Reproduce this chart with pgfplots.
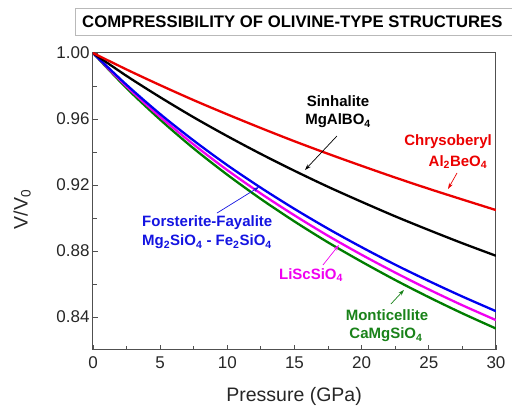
\documentclass[border=0pt]{standalone}
\usepackage{pgfplots}
\pgfplotsset{compat=1.18}
\usepackage{fontspec}
\setmainfont{Liberation Sans}
\usetikzlibrary{arrows.meta}

\definecolor{cred}{RGB}{235,0,0}
\definecolor{cblue}{RGB}{0,0,240}
\definecolor{cmag}{RGB}{240,0,240}
\definecolor{cgreen}{RGB}{0,125,0}
\definecolor{tblue}{RGB}{20,20,225}
\definecolor{tgreen}{RGB}{25,130,25}
\definecolor{axgray}{RGB}{80,80,80}

% Compression curves V/V0 against pressure (GPa)
\pgfplotstableread{
P      V
0      1.0000
2.5    0.9900
5      0.9805
7.5    0.9714
10     0.9628
12.5   0.9545
15     0.9465
17.5   0.9389
20     0.9316
22.5   0.9245
25     0.9177
27.5   0.9112
30     0.9048
}\chrysoberyl
\pgfplotstableread{
P      V
0      1.0000
2.5    0.9861
5      0.9732
7.5    0.9610
10     0.9496
12.5   0.9388
15     0.9286
17.5   0.9189
20     0.9098
22.5   0.9010
25     0.8927
27.5   0.8847
30     0.8771
}\sinhalite
\pgfplotstableread{
P      V
0      1.0000
2.5    0.9807
5      0.9630
7.5    0.9469
10     0.9320
12.5   0.9183
15     0.9055
17.5   0.8935
20     0.8823
22.5   0.8717
25     0.8618
27.5   0.8524
30     0.8435
}\forsterite
\pgfplotstableread{
P      V
0      1.0000
2.5    0.9797
5      0.9613
7.5    0.9445
10     0.9290
12.5   0.9148
15     0.9016
17.5   0.8892
20     0.8777
22.5   0.8669
25     0.8567
27.5   0.8471
30     0.8381
}\liscsio
\pgfplotstableread{
P      V
0      1.0000
2.5    0.9787
5      0.9596
7.5    0.9421
10     0.9262
12.5   0.9115
15     0.8979
17.5   0.8852
20     0.8735
22.5   0.8624
25     0.8520
27.5   0.8422
30     0.8330
}\monticellite

\begin{document}
\begin{tikzpicture}
\useasboundingbox (0,0) rectangle (512pt,407pt);

% title box
\draw[gray!55, line width=0.8pt] (514pt,399pt) -- (75pt,399pt) -- (75pt,372pt) -- (514pt,372pt);
\node[anchor=west, inner sep=0pt, font=\fontsize{16.7}{20}\selectfont\bfseries]
  at (82pt,385.5pt) {COMPRESSIBILITY OF OLIVINE-TYPE STRUCTURES};

\begin{axis}[
  at={(93pt,57pt)}, anchor=south west,
  width=403pt, height=297pt, scale only axis,
  xmin=0, xmax=30, ymin=0.82, ymax=1.00,
  xtick={0,5,...,30},
  ytick={0.84,0.88,0.92,0.96,1.00},
  minor x tick num=1, minor y tick num=1,
  xtick pos=bottom, ytick pos=left,
  tick align=inside,
  major tick length=5pt, minor tick length=4pt,
  axis line style={axgray, line width=1pt},
  every tick/.style={axgray, line width=0.9pt},
  /pgf/number format/assume math mode=true,
  ticklabel style={font=\fontsize{17}{20}\selectfont, text=black!85},
  yticklabel style={/pgf/number format/.cd, fixed, fixed zerofill, precision=2},
  xticklabel style={yshift=-3pt},
  xlabel={Pressure (GPa)},
  ylabel={V/V\textsubscript{0}},
  xlabel style={font=\fontsize{19.5}{22}\selectfont, text=black!85, at={(axis description cs:0.499,-0.155)}, anchor=center},
  ylabel style={font=\fontsize{19.5}{22}\selectfont, text=black!85, at={(axis description cs:-0.176,0.473)}, anchor=center, rotate=0},
  clip=true,
]
\addplot[cgreen, line width=2.3pt, smooth] table[x=P, y=V] {\monticellite};
\addplot[cmag, line width=2.3pt, smooth] table[x=P, y=V] {\liscsio};
\addplot[cblue, line width=2.3pt, smooth] table[x=P, y=V] {\forsterite};
\addplot[black, line width=2.3pt, smooth] table[x=P, y=V] {\sinhalite};
\addplot[cred, line width=2.3pt, smooth] table[x=P, y=V] {\chrysoberyl};

% labels and pointers
\begin{scope}[every node/.style={font=\fontsize{15}{18}\selectfont\bfseries, inner sep=0pt}]
\node[black] at (axis cs:18.24,0.9709) {Sinhalite};
\node[black] at (axis cs:18.24,0.9588) {MgAlBO\textsubscript{4}};
\draw[black, line width=0.7pt, -{Stealth[length=6pt,width=4pt]}] (axis cs:18.16,0.9497) -- (axis cs:15.78,0.9291);

\node[cred] at (axis cs:26.43,0.9461) {Chrysoberyl};
\node[cred] at (axis cs:27.17,0.9339) {Al\textsubscript{2}BeO\textsubscript{4}};
\draw[cred, line width=0.7pt, -{Stealth[length=6pt,width=4pt]}] (axis cs:27.10,0.9273) -- (axis cs:26.43,0.9176);

\node[tblue, anchor=west] at (axis cs:3.65,0.8970) {Forsterite-Fayalite};
\node[tblue, anchor=west] at (axis cs:3.65,0.8855) {Mg\textsubscript{2}SiO\textsubscript{4} - Fe\textsubscript{2}SiO\textsubscript{4}};
\draw[tblue, line width=0.7pt, -{Stealth[length=6pt,width=4pt]}] (axis cs:9.23,0.9030) -- (axis cs:12.36,0.9188);

\node[cmag] at (axis cs:16.23,0.8655) {LiScSiO\textsubscript{4}};
\draw[cmag, line width=0.7pt, -{Stealth[length=6pt,width=4pt]}] (axis cs:17.12,0.8715) -- (axis cs:18.31,0.8837);

\node[tgreen] at (axis cs:21.89,0.8412) {Monticellite};
\node[tgreen] at (axis cs:21.81,0.8291) {CaMgSiO\textsubscript{4}};
\draw[tgreen, line width=0.7pt, -{Stealth[length=6pt,width=4pt]}] (axis cs:22.18,0.8479) -- (axis cs:23.15,0.8564);
\end{scope}
\end{axis}
\end{tikzpicture}
\end{document}
